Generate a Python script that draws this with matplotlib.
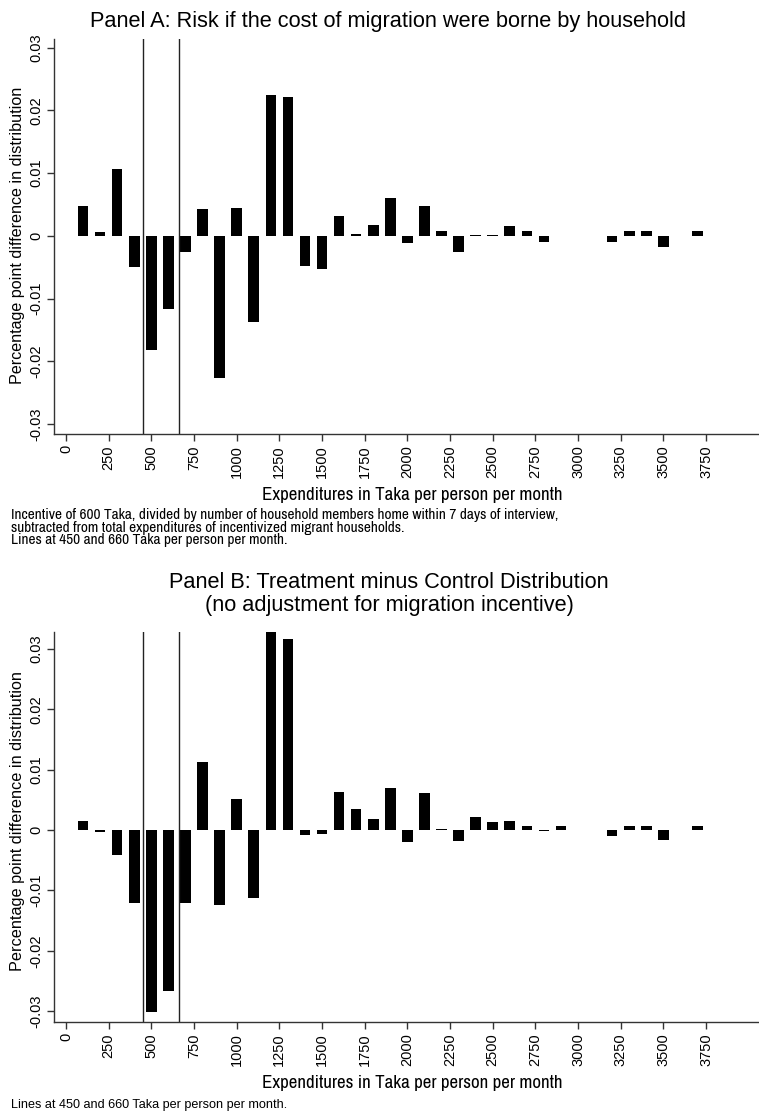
import matplotlib
matplotlib.use("Agg")
import matplotlib.pyplot as plt

plt.rcParams['font.family'] = ['Liberation Sans', 'DejaVu Sans']

# bin centres (Taka per person per month)
bins_a = [100, 200, 300, 400, 500, 600, 700, 800, 900, 1000, 1100, 1200, 1300,
          1400, 1500, 1600, 1700, 1800, 1900, 2000, 2100, 2200, 2300, 2400, 2500,
          2600, 2700, 2800, 3200, 3300, 3400, 3500, 3700]
vals_a = [0.0047, 0.0006, 0.0107, -0.0049, -0.0182, -0.0116, -0.0025, 0.0043,
          -0.0226, 0.0044, -0.0137, 0.0225, 0.0222, -0.0048, -0.0053, 0.0032,
          0.0003, 0.0018, 0.0060, -0.0012, 0.0047, 0.0007, -0.0025, 0.0002,
          0.0002, 0.0015, 0.0007, -0.0009, -0.0009, 0.0007, 0.0007, -0.0017, 0.0007]

bins_b = [100, 200, 300, 400, 500, 600, 700, 800, 900, 1000, 1100, 1200, 1300,
          1400, 1500, 1600, 1700, 1800, 1900, 2000, 2100, 2200, 2300, 2400, 2500,
          2600, 2700, 2800, 2900, 3200, 3300, 3400, 3500, 3700]
vals_b = [0.0015, -0.0003, -0.0042, -0.0121, -0.0301, -0.0266, -0.0121, 0.0113,
          -0.0125, 0.0052, -0.0113, 0.0328, 0.0317, -0.0009, -0.0007, 0.0063,
          0.0034, 0.0019, 0.0069, -0.0020, 0.0062, 0.0002, -0.0018, 0.0022,
          0.0013, 0.0015, 0.0007, -0.0001, 0.0007, -0.0010, 0.0007, 0.0007,
          -0.0017, 0.0007]

xticks = list(range(0, 4000, 250))
yticks = [-0.03, -0.02, -0.01, 0, 0.01, 0.02, 0.03]
ytick_labels = ['-0.03', '-0.02', '-0.01', '0', '0.01', '0.02', '0.03']
vlines = [450, 660]

title_a = "Panel A: Risk if the cost of migration were borne by household"
title_b1 = "Panel B: Treatment minus Control Distribution"
title_b2 = "(no adjustment for migration incentive)"
xlabel = "Expenditures in Taka per person per month"
ylabel = "Percentage point difference in distribution"
note_a = ("Incentive of 600 Taka, divided by number of household members home within 7 days of interview,\n"
          "subtracted from total expenditures of incentivized migrant households.\n"
          "Lines at 450 and 660 Taka per person per month.")
note_b = "Lines at 450 and 660 Taka per person per month."

narrow = ['Archivo Narrow', 'Roboto Condensed', 'DejaVu Sans']

W, H = 759, 1112
fig = plt.figure(figsize=(W / 100, H / 100), dpi=100)
renderer = fig.canvas.get_renderer()


def fit(t, target_px, vertical=False):
    """Scale a text's font size so that its rendered length matches target_px."""
    bb = t.get_window_extent(renderer=renderer)
    length = bb.height if vertical else bb.width
    t.set_fontsize(t.get_fontsize() * target_px / length)


def ftext(xpx, ypx, s, width_px=None, ha='center', va='center', **kw):
    t = fig.text(xpx / W, 1 - ypx / H, s, ha=ha, va=va, **kw)
    if width_px:
        fit(t, width_px, vertical=kw.get('rotation', 0) == 90)
    return t


def px_axes(left, top, right, bottom):
    return fig.add_axes([left / W, 1 - bottom / H, (right - left) / W, (bottom - top) / H])


def draw(ax, bins, vals, ylim):
    ax.bar(bins, vals, width=62, color='black', linewidth=0)
    for v in vlines:
        ax.axvline(v, color='#222222', linewidth=1.0)
    ax.set_xlim(-70, 4060)
    ax.set_ylim(*ylim)
    ax.set_xticks(xticks)
    ax.set_xticklabels([str(t) for t in xticks], rotation=90, fontsize=10.5)
    ax.set_yticks(yticks)
    ax.set_yticklabels(ytick_labels, rotation=90, fontsize=10.5, va='center')
    for s in ['top', 'right']:
        ax.spines[s].set_visible(False)
    for s in ['left', 'bottom']:
        ax.spines[s].set_color('#333333')
        ax.spines[s].set_linewidth(1.0)
    ax.tick_params(direction='out', length=5, width=1, color='#333333', pad=3)


ax1 = px_axes(54, 39, 759, 434)
draw(ax1, bins_a, vals_a, (-0.0316, 0.0314))
ftext(387.5, 22, title_a, width_px=601, fontsize=15)
ftext(17.5, 235, ylabel, width_px=296, rotation=90, fontsize=11)
ftext(412, 495, xlabel, width_px=301, fontsize=12, family=narrow)
ftext(11, 508, note_a, width_px=549, ha='left', va='top', fontsize=9,
      family=narrow, linespacing=0.88)

ax2 = px_axes(54, 632, 759, 1022)
draw(ax2, bins_b, vals_b, (-0.0318, 0.0328))
tb = ftext(388.5, 583, title_b1, width_px=443, fontsize=15)
ftext(389, 606, title_b2, fontsize=tb.get_fontsize())
ftext(17.5, 821, ylabel, width_px=298, rotation=90, fontsize=11)
ftext(412, 1083, xlabel, width_px=301, fontsize=12, family=narrow)
ftext(11, 1105, note_b, width_px=276, ha='left', fontsize=9)

fig.savefig("out.png", dpi=100, facecolor='white')
